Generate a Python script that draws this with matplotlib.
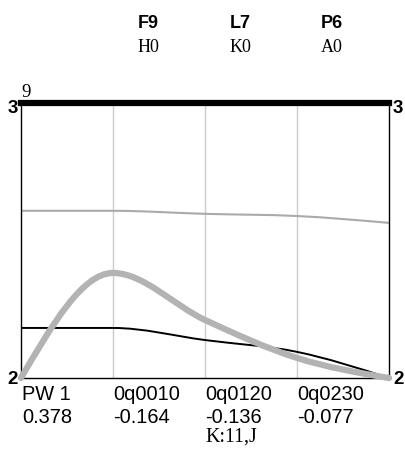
import numpy as np
import matplotlib
matplotlib.use("Agg")
import matplotlib.pyplot as plt
from matplotlib.path import Path
from matplotlib.patches import PathPatch
import matplotlib.transforms as mtransforms

# Data
categories = ["PW 1", "0q0010", "0q0120", "0q0230"]
cat_values = ["0.378", "-0.164", "-0.136", "-0.077"]
header_top = ["F9", "L7", "P6"]
header_sub = ["H0", "K0", "A0"]
x_pos = [0, 1, 2, 3, 4]
light_line = [2.608, 2.608, 2.597, 2.589, 2.564]
black_line = [2.182, 2.182, 2.138, 2.095, 2.0]
thick_line = [2.0, 2.382, 2.211, 2.073, 2.0]
footer = "K:11,J"
corner_label = "9"


def monotone_path(xs, ys):
    # d3 curveMonotoneX as cubic bezier segments
    xs = np.asarray(xs, float)
    ys = np.asarray(ys, float)
    n = len(xs)
    h = np.diff(xs)
    s = np.diff(ys) / h
    t = np.zeros(n)
    for i in range(1, n - 1):
        h0, h1 = h[i - 1], h[i]
        s0, s1 = s[i - 1], s[i]
        p = (s0 * h1 + s1 * h0) / (h0 + h1)
        t[i] = (np.sign(s0) + np.sign(s1)) * min(abs(s0), abs(s1), 0.5 * abs(p))
    t[0] = (3 * s[0] - t[1]) / 2
    t[-1] = (3 * s[-1] - t[-2]) / 2
    verts = [(xs[0], ys[0])]
    codes = [Path.MOVETO]
    for i in range(n - 1):
        dx = h[i] / 3
        verts += [(xs[i] + dx, ys[i] + dx * t[i]),
                  (xs[i + 1] - dx, ys[i + 1] - dx * t[i + 1]),
                  (xs[i + 1], ys[i + 1])]
        codes += [Path.CURVE4] * 3
    return Path(verts, codes)


W, H = 406, 450
fig = plt.figure(figsize=(W / 100, H / 100), dpi=100)
ax = fig.add_axes([21 / W, (H - 378) / H, (389 - 21) / W, (378 - 103) / H])
ax.set_xlim(0, 4)
ax.set_ylim(2, 3)
ax.set_xticks([])
ax.set_yticks([])
for sp in ["left", "right", "bottom"]:
    ax.spines[sp].set_color("black")
    ax.spines[sp].set_linewidth(1.0)
ax.spines["top"].set_visible(False)

for xv in x_pos[1:-1]:
    ax.axvline(xv, color="#cccccc", lw=1.0, zorder=1)

ax.add_patch(PathPatch(monotone_path(x_pos, light_line), fill=False,
                       edgecolor="#aaaaaa", lw=1.5, zorder=2))
ax.add_patch(PathPatch(monotone_path(x_pos, black_line), fill=False,
                       edgecolor="black", lw=1.4, zorder=3))
ax.add_patch(PathPatch(monotone_path(x_pos, thick_line), fill=False,
                       edgecolor="#b3b3b3", lw=4.5, zorder=4,
                       capstyle="round", clip_on=False))
ax.axhline(3, color="black", lw=4.5, zorder=5, clip_on=False)

tr = mtransforms.blended_transform_factory(ax.transData, fig.transFigure)
sans = "Liberation Sans"
serif = "Liberation Serif"

for i, (c, v) in enumerate(zip(categories, cat_values)):
    xo = 0.012 if i == 0 else 0.005
    ax.text(i + xo, 1 - 400 / H, c, transform=tr, fontsize=14.4,
            family=sans, ha="left", va="baseline")
    ax.text(i + xo, 1 - 423 / H, v, transform=tr, fontsize=14.4,
            family=sans, ha="left", va="baseline")
ax.text(2.005, 1 - 442 / H, footer, transform=tr, fontsize=14.4,
        family=serif, ha="left", va="baseline")

for i, (a, b) in enumerate(zip(header_top, header_sub)):
    ax.text(i + 1.38, 1 - 28 / H, a, transform=tr, fontsize=13,
            family=sans, weight="bold", ha="center", va="baseline")
    ax.text(i + 1.38, 1 - 52 / H, b, transform=tr, fontsize=13,
            family=serif, ha="center", va="baseline")

fig.text(21 / W, 1 - 97 / H, corner_label, fontsize=13.5, family=serif,
         ha="left", va="baseline")
for xx, ha in [(18 / W, "right"), (393 / W, "left")]:
    fig.text(xx, 1 - 113 / H, "3", fontsize=13.5, family=sans,
             weight="bold", ha=ha, va="baseline")
    fig.text(xx, 1 - 384 / H, "2", fontsize=13.5, family=sans,
             weight="bold", ha=ha, va="baseline")

fig.savefig("out.png", dpi=100)
